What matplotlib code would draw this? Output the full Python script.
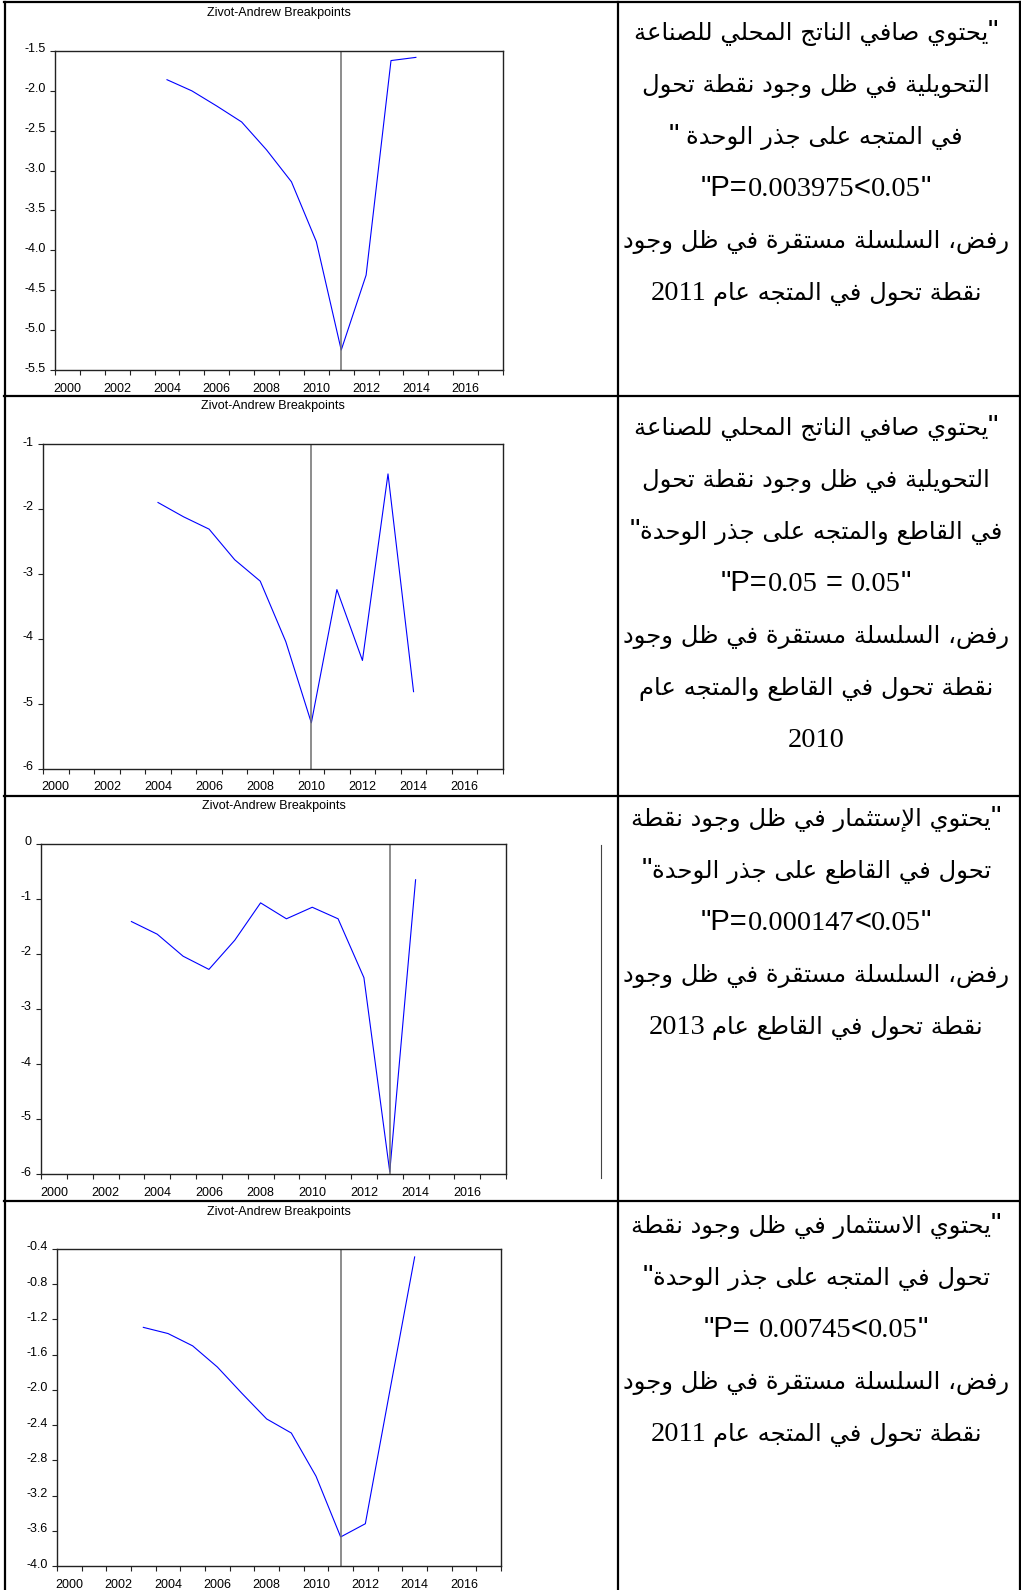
import re
import numpy as np
import matplotlib.pyplot as plt
import matplotlib.transforms as mtransforms

plt.rcParams['font.family'] = 'Liberation Sans'

W, H = 1021, 1590

# Zivot-Andrews t-statistics
years_1 = list(range(2004, 2015))
za_1 = [-1.86, -2.00, -2.19, -2.39, -2.74, -3.14, -3.89, -5.25, -4.31, -1.62, -1.58]
break_1 = 2011
yticks_1 = [-1.5, -2.0, -2.5, -3.0, -3.5, -4.0, -4.5, -5.0, -5.5]

years_2 = list(range(2004, 2015))
za_2 = [-1.90, -2.12, -2.31, -2.78, -3.11, -4.04, -5.29, -3.24, -4.33, -1.46, -4.81]
break_2 = 2010
yticks_2 = [-1, -2, -3, -4, -5, -6]

years_3 = list(range(2003, 2015))
za_3 = [-1.41, -1.64, -2.04, -2.28, -1.75, -1.07, -1.36, -1.15, -1.36, -2.43, -5.96, -0.65]
break_3 = 2013
yticks_3 = [0, -1, -2, -3, -4, -5, -6]

years_4 = list(range(2003, 2015))
za_4 = [-1.29, -1.36, -1.50, -1.74, -2.04, -2.33, -2.49, -2.98, -3.67, -3.52, -2.00, -0.49]
break_4 = 2011
yticks_4 = [-0.4, -0.8, -1.2, -1.6, -2.0, -2.4, -2.8, -3.2, -3.6, -4.0]

row1_lines = [
    '"يحتوي صافي الناتج المحلي للصناعة',
    'التحويلية في ظل وجود نقطة تحول',
    'في المتجه على جذر الوحدة "',
    '"P=0.003975<0.05"',
    'رفض، السلسلة مستقرة في ظل وجود',
    'نقطة تحول في المتجه عام 2011',
]
row2_lines = [
    '"يحتوي صافي الناتج المحلي للصناعة',
    'التحويلية في ظل وجود نقطة تحول',
    'في القاطع والمتجه على جذر الوحدة"',
    '"P=0.05 = 0.05"',
    'رفض، السلسلة مستقرة في ظل وجود',
    'نقطة تحول في القاطع والمتجه عام',
    '2010',
]
row3_lines = [
    '"يحتوي الإستثمار في ظل وجود نقطة',
    'تحول في القاطع على جذر الوحدة"',
    '"P=0.000147<0.05"',
    'رفض، السلسلة مستقرة في ظل وجود',
    'نقطة تحول في القاطع عام 2013',
]
row4_lines = [
    '"يحتوي الاستثمار في ظل وجود نقطة',
    'تحول في المتجه على جذر الوحدة"',
    '"P= 0.00745<0.05"',
    'رفض، السلسلة مستقرة في ظل وجود',
    'نقطة تحول في المتجه عام 2011',
]

# --- minimal Arabic shaping (matplotlib has no text shaping / bidi) ---
letters = "ءآأؤإئابةتثجحخدذرزسشصضطظعغفقكلمنهوىي"
counts = [1, 2, 2, 2, 2, 4, 2, 4, 2, 4, 4, 4, 4, 4, 2, 2, 2, 2,
          4, 4, 4, 4, 4, 4, 4, 4, 4, 4, 4, 4, 4, 4, 4, 2, 2, 4]
FORMS = {}
code = 0xFE80
for ch, n in zip(letters, counts):
    FORMS[ch] = (code, n)
    code += n
LAM_ALEF = {'آ': 0xFEF5, 'أ': 0xFEF7, 'إ': 0xFEF9, 'ا': 0xFEFB}


def joins_next(u):
    if isinstance(u, tuple):
        return False
    return FORMS.get(u, (0, 0))[1] == 4


def joins_prev(u):
    if isinstance(u, tuple):
        return True
    return FORMS.get(u, (0, 0))[1] >= 2


def shape_word(word):
    units = []
    i = 0
    while i < len(word):
        if word[i] == 'ل' and i + 1 < len(word) and word[i + 1] in LAM_ALEF:
            units.append(('LA', word[i + 1]))
            i += 2
        else:
            units.append(word[i])
            i += 1
    out = []
    for k, u in enumerate(units):
        prev = k > 0 and joins_next(units[k - 1]) and joins_prev(u)
        nxt = k < len(units) - 1 and joins_next(u) and joins_prev(units[k + 1])
        if isinstance(u, tuple):
            out.append(chr(LAM_ALEF[u[1]] + (1 if prev else 0)))
        elif u in FORMS:
            base, n = FORMS[u]
            if n == 4:
                idx = 3 if (prev and nxt) else 1 if prev else 2 if nxt else 0
            elif n == 2:
                idx = 1 if prev else 0
            else:
                idx = 0
            out.append(chr(base + idx))
        else:
            out.append(u)
    return ''.join(out)


SANS = 'Liberation Sans'
SERIF = 'Liberation Serif'
ARAB = 'DejaVu Sans'
AR_SIZE, NUM_SIZE, QUOTE_SIZE, P_SIZE = 17.5, 20.5, 21, 21


def line_runs(line):
    # runs in visual (left-to-right) order: [text, family, size, spaces before]
    runs = []
    if any('\u0600' <= c <= '\u06ff' for c in line):
        lead = line.startswith('"')
        trail = line.endswith('"')
        core = line.strip('"')
        gap = 0
        if trail:
            runs.append(['"', SANS, QUOTE_SIZE, 0])
            gap = 1 if core.endswith(' ') else 0
        for w in reversed(core.split()):
            if w.isdigit():
                runs.append([w, SERIF, NUM_SIZE, gap])
            elif runs and runs[-1][1] == ARAB:
                runs[-1][0] += ' ' + shape_word(w)[::-1]
            else:
                runs.append([shape_word(w)[::-1], ARAB, AR_SIZE, gap])
            gap = 1
        if lead:
            runs.append(['"', SANS, QUOTE_SIZE, 0])
    else:
        gap = 0
        for tok in re.findall(r'\s+|[0-9.]+|[^\s0-9.]+', line):
            if tok.isspace():
                gap = len(tok)
                continue
            if tok[0] in '0123456789.':
                runs.append([tok, SERIF, NUM_SIZE, gap])
            else:
                runs.append([tok, SANS, P_SIZE, gap])
            gap = 0
    return runs


fig = plt.figure(figsize=(W / 100, H / 100), dpi=100)
bg = fig.add_axes([0, 0, 1, 1])
bg.set_xlim(0, W)
bg.set_ylim(H, 0)
bg.axis('off')
renderer = fig.canvas.get_renderer()


def draw_line(line, xc, yc):
    yb = yc + 8
    arts, widths, gaps = [], [], []
    for text, fam, size, gap in line_runs(line):
        t = bg.text(0, yb, text, family=fam, fontsize=size,
                    ha='left', va='baseline', color='black')
        arts.append(t)
        widths.append(t.get_window_extent(renderer).width)
        gaps.append(gap * size * 100 / 72 * 0.28)
    x = xc - (sum(widths) + sum(gaps)) / 2
    for t, w, g in zip(arts, widths, gaps):
        x += g
        t.set_x(x)
        x += w


def za_panel(box, years, values, brk, yticks, fmt):
    l, t, r, b = box
    ax = fig.add_axes([l / W, 1 - b / H, (r - l) / W, (b - t) / H])
    x = np.array(years) + 0.5
    ax.plot(x, values, color='#0000ff', lw=0.8)
    ax.axvline(brk + 0.5, color='#6e6e6e', lw=1.1)
    ax.set_xlim(2000, 2018)
    ax.set_ylim(yticks[-1], yticks[0])
    ax.set_yticks(yticks)
    ax.set_yticklabels([fmt.format(v) for v in yticks])
    ax.set_xticks(range(2000, 2019))
    ax.set_xticklabels([])
    ax.set_xticks(np.arange(2000, 2017, 2) + 0.5, minor=True)
    ax.set_xticklabels([str(y) for y in range(2000, 2017, 2)], minor=True)
    ax.tick_params(which='major', direction='out', length=3.6, width=0.8,
                   color='#222222', labelsize=9, pad=3)
    ax.tick_params(which='minor', axis='x', length=0, labelsize=9, pad=9)
    for sp in ax.spines.values():
        sp.set_color('#222222')
        sp.set_linewidth(1.0)
    off = mtransforms.ScaledTranslation(0, 0.03, fig.dpi_scale_trans)
    for lab in ax.get_yticklabels():
        lab.set_transform(lab.get_transform() + off)
    ax.annotate('Zivot-Andrew Breakpoints', xy=(0.5, 1), xycoords='axes fraction',
                xytext=(0, 27), textcoords='offset points',
                ha='center', va='center', fontsize=9)
    return ax


za_panel((55, 51, 503, 370), years_1, za_1, break_1, yticks_1, '{:.1f}')
za_panel((43, 444, 503, 769), years_2, za_2, break_2, yticks_2, '{:.0f}')
za_panel((41, 844, 506, 1174), years_3, za_3, break_3, yticks_3, '{:.0f}')
za_panel((57, 1249, 501, 1566), years_4, za_4, break_4, yticks_4, '{:.1f}')

# table grid
lw = 1.6
bg.plot([4, 1020], [2, 2], color='black', lw=lw)
bg.plot([5, 5], [2, H], color='black', lw=lw)
bg.plot([1019.5, 1019.5], [2, H], color='black', lw=lw)
bg.plot([618, 618], [2, H], color='black', lw=lw)
for yr in [396, 796, 1201]:
    bg.plot([4, 1020], [yr, yr], color='black', lw=lw)
bg.plot([601, 601], [845, 1178], color='#444444', lw=0.8)

# right-hand text column
for lines, y0 in [(row1_lines, 32), (row2_lines, 427), (row3_lines, 818), (row4_lines, 1225)]:
    for i, line in enumerate(lines):
        draw_line(line, 816, y0 + 52 * i)

fig.savefig('out.png', dpi=100)
